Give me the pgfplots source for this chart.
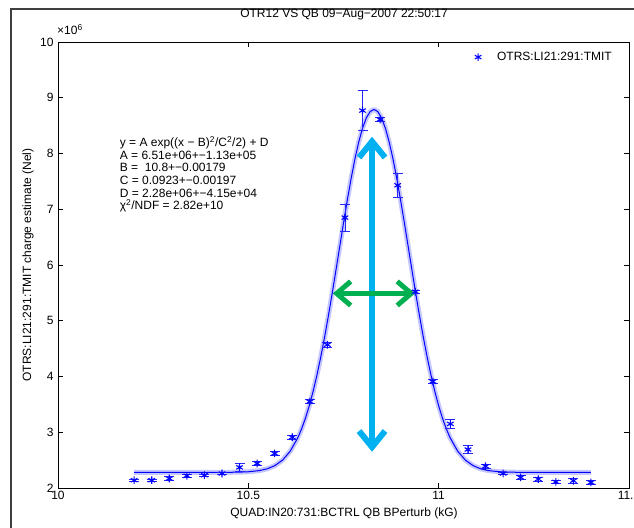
\documentclass[border=0pt]{standalone}
\usepackage{fontspec}
\setmainfont{Liberation Sans}
\usepackage{pgfplots}
\usepackage{pgfplotstable}
\pgfplotsset{compat=1.18}
\usetikzlibrary{arrows.meta}

\definecolor{matblue}{RGB}{0,0,255}
\definecolor{arrcyan}{RGB}{0,176,240}
\definecolor{arrgreen}{RGB}{0,176,80}
\newcommand\fs{\fontsize{12bp}{12.6bp}\selectfont}

% measured points (units of 1e6)
\pgfplotstableread{
x y e
10.2000 2.14 0.02
10.2462 2.14 0.02
10.2923 2.17 0.04
10.3385 2.22 0.03
10.3846 2.23 0.02
10.4308 2.26 0.02
10.4769 2.37 0.07
10.5231 2.44 0.03
10.5692 2.62 0.04
10.6154 2.91 0.03
10.6615 3.55 0.04
10.7077 4.57 0.04
10.7538 6.85 0.24
10.8000 8.77 0.36
10.8462 8.61 0.04
10.8923 7.43 0.21
10.9385 5.52 0.02
10.9846 3.91 0.04
11.0308 3.15 0.08
11.0769 2.69 0.07
11.1231 2.39 0.03
11.1692 2.26 0.02
11.2154 2.19 0.03
11.2615 2.16 0.04
11.3077 2.11 0.02
11.3538 2.13 0.04
11.4000 2.10 0.03
}\datatab

% gaussian fit, tabulated
\pgfplotstableread{
x y
10.20 2.280
10.40 2.280
10.47 2.283
10.50 2.291
10.53 2.313
10.55 2.345
10.57 2.403
10.59 2.501
10.61 2.660
10.63 2.902
10.64 3.062
10.65 3.252
10.66 3.474
10.67 3.729
10.68 4.018
10.69 4.341
10.70 4.694
10.71 5.076
10.72 5.480
10.73 5.900
10.74 6.327
10.75 6.752
10.76 7.163
10.77 7.550
10.78 7.902
10.79 8.206
10.80 8.455
10.81 8.639
10.82 8.752
10.83 8.790
10.84 8.752
10.85 8.639
10.86 8.455
10.87 8.206
10.88 7.902
10.89 7.550
10.90 7.163
10.91 6.752
10.92 6.327
10.93 5.900
10.94 5.480
10.95 5.076
10.96 4.694
10.97 4.341
10.98 4.018
10.99 3.729
11.00 3.474
11.01 3.252
11.02 3.062
11.03 2.902
11.05 2.660
11.07 2.501
11.09 2.403
11.11 2.345
11.13 2.313
11.16 2.291
11.19 2.283
11.26 2.280
11.40 2.280
}\fittab

\begin{document}
\begin{tikzpicture}
\path[use as bounding box] (0,0) rectangle (634bp,528bp);
\fill[white] (0,0) rectangle (634bp,528bp);
% figure window frame
\draw[line width=1.5bp, black!75] (11bp,-5bp) -- (11bp,519bp) -- (640bp,519bp);

\begin{axis}[
  at={(58bp,40bp)}, anchor=south west,
  width=571bp, height=446bp, scale only axis,
  xmin=10, xmax=11.5, ymin=2, ymax=10,
  xtick={10,10.5,11,11.5}, xticklabels={10,10.5,11,11.5},
  ytick={2,3,4,5,6,7,8,9,10}, yticklabels={2,3,4,5,6,7,8,9,10},
  tick align=inside, major tick length=5bp,
  tick style={black, line width=0.6bp},
  axis line style={line width=0.7bp},
  ticklabel style={font=\fs},
  yticklabel style={xshift=-1bp},
  legend style={draw=none, fill=none, font=\fs,
    at={(axis description cs:1,1)}, anchor=north east,
    xshift=-12bp, yshift=-6bp},
  legend cell align=left,
  legend image code/.code={%
    \draw[#1] plot[only marks] coordinates {(0bp,0bp)};
    \path[draw=none, fill=none] (-6bp,0bp) -- (17bp,0bp);},
]
\addplot[forget plot, matblue, opacity=0.22, line width=5bp, line join=round] table {\fittab};
\addplot[forget plot, matblue, line width=1bp, line join=round] table {\fittab};
\addplot[matblue, only marks, mark=asterisk, mark size=3.8bp,
  mark options={line width=1.1bp},
  error bars/.cd, y dir=both, y explicit,
  error bar style={line width=0.7bp, matblue!85!white},
  error mark options={rotate=90, mark size=5bp, line width=0.7bp, matblue!85!white}]
  table[x=x, y=y, y error=e] {\datatab};
\addlegendentry{OTRS:LI21:291:TMIT}

\node[anchor=north west, align=left, font=\fs, inner sep=0pt] at (axis cs:10.162,8.31)
 {y = A exp((x − B)\textsuperscript{2}/C\textsuperscript{2}/2) + D\\
  A = 6.51e+06+−1.13e+05\\
  B =\ \ 10.8+−0.00179\\
  C = 0.0923+−0.00197\\
  D = 2.28e+06+−4.15e+04\\
  χ\textsuperscript{2}/NDF = 2.82e+10};

\draw[arrcyan, line width=6bp,
  {Straight Barb[length=16bp,width=26bp]}-{Straight Barb[length=16bp,width=26bp]}]
  (axis cs:10.825,2.65) -- (axis cs:10.825,8.30);
\draw[arrgreen, line width=5bp,
  {Straight Barb[length=14bp,width=24bp]}-{Straight Barb[length=14bp,width=24bp]}]
  (axis cs:10.722,5.49) -- (axis cs:10.938,5.49);
\end{axis}

\node[font=\fs, anchor=base] at (344bp,510bp) {OTR12 VS QB 09−Aug−2007 22:50:17};
\node[font=\fs, anchor=base west, inner sep=0pt] at (57bp,493bp) {×10\textsuperscript{6}};
\node[font=\fs, anchor=base] at (344bp,12bp) {QUAD:IN20:731:BCTRL QB BPerturb (kG)};
\node[font=\fs, rotate=90, anchor=center] at (28bp,263bp) {OTRS:LI21:291:TMIT charge estimate (Nel)};
\end{tikzpicture}
\end{document}
